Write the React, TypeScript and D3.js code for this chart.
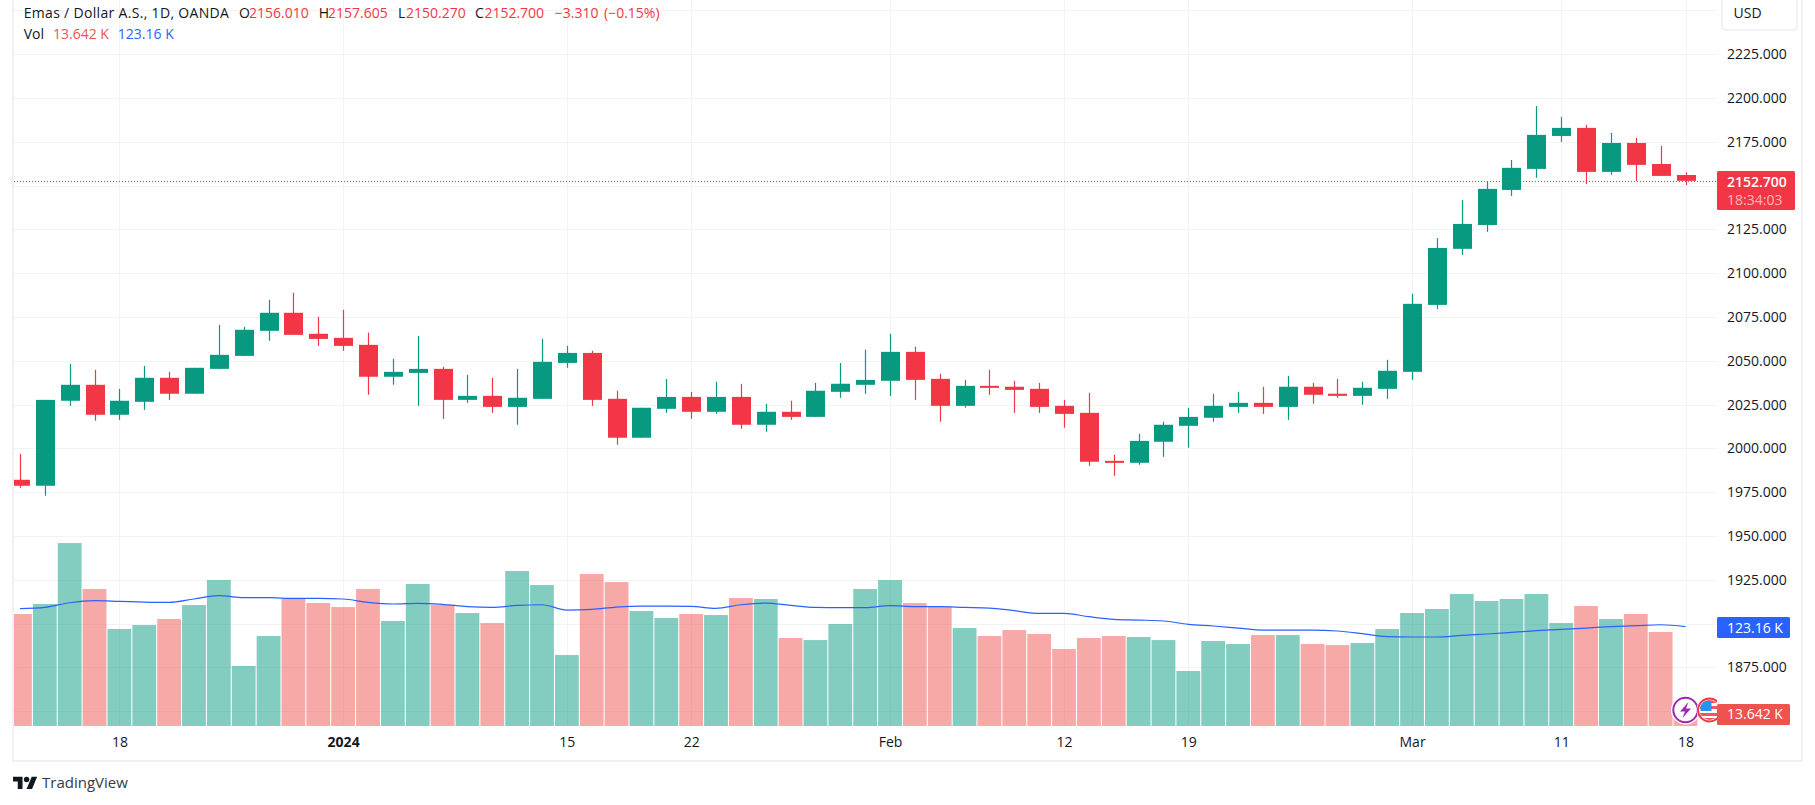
import { useEffect, useRef } from "react";
import * as d3 from "d3";

// daily candles, index 0 = 18 Dec 2023; the first four bars come before it
const firstIndex = -4;

const opens = [
  1982.1, 1978.7, 2027.2, 2036.3, 2019.2, 2026.6, 2040.3, 2031.2, 2045.4, 2052.8, 2067.1, 2077.4, 2065.4, 2063.1,
  2059.1, 2040.9, 2043.1, 2045.4, 2027.7, 2030.0, 2023.7, 2028.3, 2048.8, 2054.5, 2028.3, 2006.1, 2022.6, 2029.4,
  2020.9, 2029.4, 2013.5, 2020.9, 2018.0, 2032.3, 2036.3, 2038.6, 2055.1, 2039.7, 2024.3, 2035.7, 2035.2, 2034.0,
  2024.3, 2020.3, 1992.9, 1991.8, 2003.8, 2012.9, 2017.5, 2023.7, 2026.0, 2023.7, 2035.2, 2031.2, 2030.0, 2034.0,
  2043.7, 2081.9, 2113.9, 2127.5, 2147.5, 2159.5, 2178.3, 2182.9, 2157.8, 2174.3, 2162.3, 2156.01,
];

const highs = [
  1996.9, 2027.7, 2048.3, 2044.8, 2034.0, 2047.1, 2043.7, 2046.0, 2070.5, 2069.4, 2084.8, 2088.8, 2075.1, 2079.1,
  2066.0, 2051.1, 2064.2, 2046.6, 2042.0, 2040.3, 2045.4, 2062.5, 2058.5, 2055.7, 2032.9, 2023.2, 2039.7, 2032.3,
  2038.0, 2036.9, 2025.5, 2027.2, 2037.4, 2048.8, 2056.3, 2065.4, 2058.0, 2042.6, 2039.1, 2044.8, 2038.6, 2037.4,
  2027.7, 2031.7, 1996.4, 2008.3, 2015.2, 2023.2, 2031.2, 2032.3, 2035.2, 2041.4, 2037.4, 2039.7, 2038.0, 2050.6,
  2088.2, 2120.1, 2141.8, 2152.5, 2164.6, 2195.4, 2189.2, 2184.6, 2180.0, 2177.2, 2172.6, 2157.605,
];

const lows = [
  1977.5, 1973.0, 2024.3, 2015.8, 2016.3, 2022.0, 2027.7, 2031.2, 2045.4, 2052.8, 2061.4, 2064.8, 2058.5, 2055.7,
  2030.6, 2036.3, 2024.3, 2016.9, 2026.0, 2020.3, 2013.5, 2028.3, 2046.0, 2024.3, 2002.1, 2006.1, 2020.3, 2016.9,
  2019.7, 2011.2, 2009.5, 2016.3, 2018.0, 2028.9, 2031.2, 2030.0, 2027.7, 2015.2, 2023.2, 2030.6, 2020.3, 2020.3,
  2011.8, 1990.1, 1984.4, 1990.7, 1995.2, 2000.4, 2015.2, 2020.3, 2019.7, 2016.3, 2025.5, 2028.9, 2024.9, 2028.3,
  2039.1, 2079.6, 2110.4, 2123.6, 2144.1, 2154.4, 2174.9, 2150.9, 2156.1, 2152.6, 2155.5, 2150.27,
];

const closes = [
  1978.7, 2027.7, 2036.3, 2019.2, 2027.2, 2040.3, 2031.2, 2046.0, 2053.4, 2067.7, 2077.4, 2064.8, 2062.5, 2058.5,
  2040.9, 2043.7, 2045.4, 2027.7, 2030.0, 2023.7, 2028.9, 2049.4, 2054.5, 2027.7, 2006.1, 2023.2, 2029.4, 2020.9,
  2029.4, 2013.5, 2020.9, 2018.0, 2032.9, 2036.9, 2039.1, 2055.1, 2039.1, 2024.3, 2035.7, 2034.6, 2033.4, 2023.7,
  2019.7, 1992.4, 1991.8, 2004.3, 2013.5, 2018.0, 2024.3, 2026.0, 2023.7, 2035.2, 2030.6, 2030.0, 2034.6, 2044.3,
  2082.5, 2114.4, 2128.1, 2148.1, 2160.1, 2178.9, 2182.9, 2157.8, 2174.3, 2161.8, 2155.5, 2152.7,
];

const volumes = [
  138.9, 151.3, 226.9, 169.9, 120.3, 125.2, 132.7, 150.0, 181.0, 74.4, 111.6, 157.5, 152.5, 147.5,
  169.9, 130.2, 176.1, 150.4, 140.1, 127.7, 192.2, 174.8, 88.0, 188.5, 178.5, 142.6, 133.9, 138.9,
  137.6, 158.7, 157.5, 109.1, 106.6, 126.5, 169.9, 181.0, 152.5, 147.5, 121.5, 111.6, 119.0, 114.1,
  95.5, 109.1, 111.6, 110.4, 106.6, 68.2, 105.4, 101.7, 112.8, 112.8, 101.7, 100.4, 102.9, 120.3,
  140.1, 145.1, 163.7, 155.0, 157.5, 163.7, 127.7, 148.8, 132.7, 138.9, 116.6, 13.642,
];

const volumeMa = [
  145.5, 147.1, 152.9, 155.4, 154.6, 153.7, 153.3, 157.5, 161.6, 159.1, 159.1, 158.3, 158.3, 157.5,
  153.3, 151.3, 152.1, 150.9, 148.0, 147.1, 149.6, 150.4, 143.8, 144.7, 147.5, 148.8, 148.8, 148.4,
  145.9, 150.4, 152.5, 149.6, 147.1, 146.7, 146.7, 149.2, 148.0, 148.0, 147.1, 146.3, 143.0, 139.7,
  139.7, 135.6, 132.3, 131.4, 130.2, 126.1, 124.0, 121.5, 119.0, 119.0, 119.0, 117.8, 114.5, 110.8,
  110.4, 110.4, 112.4, 114.1, 116.1, 118.2, 119.9, 121.5, 123.2, 124.4, 125.6, 123.16,
];

const priceTicks = [2225, 2200, 2175, 2125, 2100, 2075, 2050, 2025, 2000, 1975, 1950, 1925, 1875];
const priceGrid = [2250, 2225, 2200, 2175, 2150, 2125, 2100, 2075, 2050, 2025, 2000, 1975, 1950, 1925, 1900, 1875, 1850];
const timeTicks = [0, 9, 18, 23, 31, 38, 43, 52, 58, 63];
const timeLabels = ["18", "2024", "15", "22", "Feb", "12", "19", "Mar", "11", "18"];

const lastClose = 2152.7;
const lastVolume = 13.642;
const lastMa = 123.16;

const UP = "#089981";
const DOWN = "#F23645";
const VOL_DOWN = "#EF5350";
const FONT = "'Open Sans', sans-serif";
const TEXT = "#131722";

const App = () => {
  const svgRef = useRef<SVGSVGElement | null>(null);

  useEffect(() => {
    const svg = d3.select(svgRef.current);
    svg.selectAll("*").remove();

    const left = 14;
    const right = 1717;
    const bottom = 726;

    // ----- Scales ----------------------------------------------------------
    const x = d3.scaleLinear().domain([0, 63]).range([119.4, 1685.5]);
    const y = d3.scaleLinear().domain([1850, 2250]).range([711.3, 10.3]);
    const yVol = d3.scaleLinear().domain([0, 123.16]).range([bottom, 626.7]);
    const pos = (i: number) => x(i + firstIndex);
    const isUp = (i: number) => closes[i] >= opens[i];

    svg
      .append("defs")
      .append("clipPath")
      .attr("id", "plot")
      .append("rect")
      .attr("x", left)
      .attr("y", 0)
      .attr("width", right - left)
      .attr("height", bottom);

    // ----- Frame -----------------------------------------------------------
    svg.append("rect").attr("x", 12).attr("y", 0).attr("width", 2).attr("height", 762).attr("fill", "#F0F0F5");
    svg.append("rect").attr("x", 1801).attr("y", 0).attr("width", 2).attr("height", 762).attr("fill", "#F0F0F5");
    svg.append("rect").attr("x", 12).attr("y", 760).attr("width", 1791).attr("height", 2).attr("fill", "#F0F0F5");

    // ----- Grid ------------------------------------------------------------
    const grid = svg.append("g").attr("stroke", "#F3F3F5").attr("stroke-width", 1);
    priceGrid.forEach((p) => {
      const py = Math.round(y(p)) + 0.5;
      grid.append("line").attr("x1", left).attr("x2", right).attr("y1", py).attr("y2", py);
    });
    timeTicks.forEach((t) => {
      const px = Math.round(x(t)) + 0.5;
      grid.append("line").attr("x1", px).attr("x2", px).attr("y1", 0).attr("y2", bottom);
    });

    const plot = svg.append("g").attr("clip-path", "url(#plot)");

    // ----- Volume ----------------------------------------------------------
    plot
      .append("g")
      .selectAll("rect")
      .data(volumes)
      .join("rect")
      .attr("x", (_, i) => pos(i) - 11.9)
      .attr("width", 23.8)
      .attr("y", (d) => yVol(d))
      .attr("height", (d) => bottom - yVol(d))
      .attr("fill", (_, i) => (isUp(i) ? UP : VOL_DOWN))
      .attr("fill-opacity", 0.5);

    const maLine = d3
      .line<number>()
      .x((_, i) => pos(i))
      .y((d) => yVol(d))
      .curve(d3.curveMonotoneX);

    plot
      .append("path")
      .datum(volumeMa)
      .attr("fill", "none")
      .attr("stroke", "#2962FF")
      .attr("stroke-width", 1.2)
      .attr("d", maLine);

    // ----- Candles ---------------------------------------------------------
    const candles = plot.append("g");
    candles
      .selectAll("line")
      .data(highs)
      .join("line")
      .attr("x1", (_, i) => Math.round(pos(i)) + 0.5)
      .attr("x2", (_, i) => Math.round(pos(i)) + 0.5)
      .attr("y1", (d) => y(d))
      .attr("y2", (_, i) => y(lows[i]))
      .attr("stroke", (_, i) => (isUp(i) ? UP : DOWN))
      .attr("stroke-width", 1.2);
    candles
      .selectAll("rect")
      .data(opens)
      .join("rect")
      .attr("x", (_, i) => Math.round(pos(i)) - 9)
      .attr("width", 19)
      .attr("y", (d, i) => y(Math.max(d, closes[i])))
      .attr("height", (d, i) => Math.max(2, Math.abs(y(closes[i]) - y(d))))
      .attr("fill", (_, i) => (isUp(i) ? UP : DOWN));

    // last price line
    svg
      .append("line")
      .attr("x1", left)
      .attr("x2", right)
      .attr("y1", Math.round(y(lastClose)) + 0.5)
      .attr("y2", Math.round(y(lastClose)) + 0.5)
      .attr("stroke", DOWN)
      .attr("stroke-width", 1)
      .attr("stroke-dasharray", "1 2");

    // ----- Event badges ----------------------------------------------------
    const badgeY = 710;
    const flash = plot.append("g").attr("transform", `translate(${x(63)},${badgeY})`);
    flash.append("circle").attr("r", 14.5).attr("fill", "#fff");
    flash.append("circle").attr("r", 12.2).attr("fill", "#fff").attr("stroke", "#9C27B0").attr("stroke-width", 2);
    flash.append("path").attr("d", "M3 -8 L-5.5 1.5 H-0.5 L-3 8 L5.5 -1.5 H0.5 Z").attr("fill", "#9C27B0");

    const flagClip = svg.select("defs").append("clipPath").attr("id", "flag-disc");
    flagClip.append("circle").attr("r", 10);
    const flag = plot.append("g").attr("transform", `translate(${x(63) + 24},${badgeY})`);
    flag.append("circle").attr("r", 13).attr("fill", "#fff");
    flag.append("circle").attr("r", 11.5).attr("fill", "#fff").attr("stroke", DOWN).attr("stroke-width", 2);
    const stripes = flag.append("g").attr("clip-path", "url(#flag-disc)");
    stripes.append("rect").attr("x", -10).attr("y", -10).attr("width", 20).attr("height", 3).attr("fill", "#F7525F");
    stripes.append("rect").attr("x", -10).attr("y", -4).attr("width", 20).attr("height", 3).attr("fill", "#F7525F");
    stripes.append("rect").attr("x", -10).attr("y", 3).attr("width", 20).attr("height", 3).attr("fill", "#F7525F");
    stripes.append("rect").attr("x", -10).attr("y", 8).attr("width", 20).attr("height", 2).attr("fill", "#F7525F");
    stripes.append("rect").attr("x", -9).attr("y", -9).attr("width", 11).attr("height", 10).attr("fill", "#2196F3");

    // ----- Axes ------------------------------------------------------------
    const priceAxis = svg
      .append("g")
      .attr("transform", `translate(${right + 10},0)`)
      .call(
        d3
          .axisRight(y)
          .tickValues(priceTicks)
          .tickSize(0)
          .tickPadding(0)
          .tickFormat((d) => d3.format(".3f")(d as number)),
      );
    priceAxis.select(".domain").remove();
    priceAxis.selectAll("text").attr("font-family", FONT).attr("font-size", 14).attr("fill", TEXT);

    const timeAxis = svg
      .append("g")
      .attr("transform", `translate(0,${bottom})`)
      .call(
        d3
          .axisBottom(x)
          .tickValues(timeTicks)
          .tickSize(0)
          .tickPadding(11)
          .tickFormat((_, i) => timeLabels[i]),
      );
    timeAxis.select(".domain").remove();
    timeAxis
      .selectAll("text")
      .attr("font-family", FONT)
      .attr("font-size", 14)
      .attr("fill", TEXT)
      .attr("font-weight", (_, i) => (timeLabels[i] === "2024" ? 700 : 400));

    // ----- Right-hand labels -----------------------------------------------
    const label = (
      by: number,
      w: number,
      h: number,
      fill: string,
      lines: { text: string; y: number; opacity?: number; weight?: number }[],
    ) => {
      svg.append("rect").attr("x", right).attr("y", by).attr("width", w).attr("height", h).attr("rx", 1.5).attr("fill", fill);
      lines.forEach((l) => {
        svg
          .append("text")
          .attr("x", right + 10)
          .attr("y", l.y)
          .attr("dy", "0.35em")
          .attr("font-family", FONT)
          .attr("font-size", 14)
          .attr("font-weight", l.weight ?? 400)
          .attr("fill", "#fff")
          .attr("fill-opacity", l.opacity ?? 1)
          .text(l.text);
      });
    };
    label(171, 78, 39, DOWN, [
      { text: d3.format(".3f")(lastClose), y: 181.7, weight: 600 },
      { text: "18:34:03", y: 200, opacity: 0.65 },
    ]);
    label(617, 73, 21, "#2962FF", [{ text: `${lastMa.toFixed(2)} K`, y: 627.7 }]);
    label(704, 73, 21, VOL_DOWN, [{ text: `${lastVolume.toFixed(3)} K`, y: 714.5 }]);

    // USD button
    svg
      .append("path")
      .attr("d", "M1722 0 V26 Q1722 30 1726 30 H1793 Q1797 30 1797 26 V0")
      .attr("fill", "#fff")
      .attr("stroke", "#ECEEF4")
      .attr("stroke-width", 1.5);
    svg
      .append("text")
      .attr("x", 1733.5)
      .attr("y", 13)
      .attr("dy", "0.35em")
      .attr("font-family", FONT)
      .attr("font-size", 14)
      .attr("fill", TEXT)
      .text("USD");

    // ----- Legend ----------------------------------------------------------
    const legendParts: [string, number, string, number][] = [
      ["Emas / Dollar A.S., 1D, OANDA", 23.7, TEXT, 0.32],
      ["O", 239, TEXT, 0],
      ["2156.010", 249, DOWN, 0],
      ["H", 318.7, TEXT, 0],
      ["2157.605", 328, DOWN, 0],
      ["L", 398, TEXT, 0],
      ["2150.270", 406, DOWN, 0],
      ["C", 475, TEXT, 0],
      ["2152.700", 484.4, DOWN, 0],
      ["−3.310", 554.8, DOWN, 0],
      ["(−0.15%)", 604, DOWN, 0],
    ];
    legendParts.forEach(([t, lx, c, spacing]) => {
      svg
        .append("text")
        .attr("x", lx)
        .attr("y", 12.7)
        .attr("dy", "0.35em")
        .attr("font-family", FONT)
        .attr("font-size", 14)
        .attr("letter-spacing", spacing)
        .attr("fill", c)
        .text(t);
    });
    const volParts: [string, number, string][] = [
      ["Vol", 23.7, TEXT],
      ["13.642 K", 53, VOL_DOWN],
      ["123.16 K", 117.8, "#2962FF"],
    ];
    volParts.forEach(([t, lx, c]) => {
      svg
        .append("text")
        .attr("x", lx)
        .attr("y", 34)
        .attr("dy", "0.35em")
        .attr("font-family", FONT)
        .attr("font-size", 14)
        .attr("fill", c)
        .text(t);
    });

    // ----- Watermark -------------------------------------------------------
    const logo = svg.append("g").attr("transform", "translate(13,774) scale(0.68)").attr("fill", TEXT);
    logo.append("path").attr("d", "M14 22H7V11H0V4h14v18zM28 22h-8l7.5-18h8L28 22z");
    logo.append("circle").attr("cx", 20).attr("cy", 8).attr("r", 4);
    svg
      .append("text")
      .attr("x", 42)
      .attr("y", 783)
      .attr("dy", "0.35em")
      .attr("font-family", FONT)
      .attr("font-size", 15)
      .attr("fill", "#363A45")
      .text("TradingView");
  }, []);

  return (
    <svg
      ref={svgRef}
      width={1815}
      height={805}
      style={{ position: "absolute", left: 0, top: 0, display: "block", background: "#fff" }}
    />
  );
};

export default App;
